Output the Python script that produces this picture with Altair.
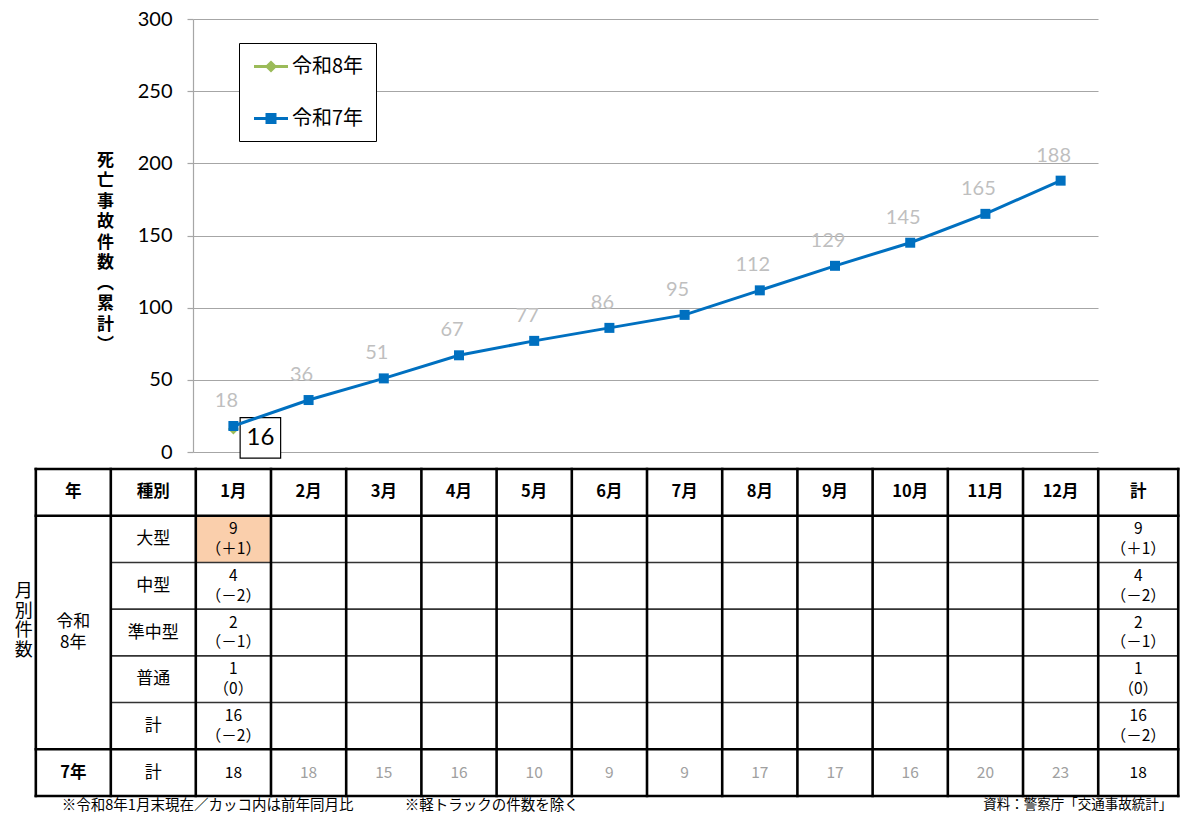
import altair as alt
import pandas as pd

# ---------------- data ----------------
months = list(range(1, 13))
month_labels = [f"{m}月" for m in months]
series_names = ["令和8年", "令和7年"]
r8_cumulative = [16]                                   # 令和8年 cumulative (Jan only)
r7_cumulative = [18, 36, 51, 67, 77, 86, 95, 112, 129, 145, 165, 188]
r7_monthly = [18, 18, 15, 16, 10, 9, 9, 17, 17, 16, 20, 23]
vehicle_types = ["大型", "中型", "準中型", "普通", "計"]
r8_jan_by_type = [9, 4, 2, 1, 16]
r8_jan_diff = [1, -2, -1, 0, -2]
y_ticks = [0, 50, 100, 150, 200, 250, 300]
y_title = "死亡事故件数（累計）"
side_label = "月別件数"
table_year_head = "年"
table_type_head = "種別"
table_total_head = "計"
r8_label = "令和\n8年"
r7_label = "7年"
notes_left = ["※令和8年1月末現在／カッコ内は前年同月比", "※軽トラックの件数を除く"]
note_right = "資料：警察庁「交通事故統計」"

# ---------------- styles / layout ----------------
JP = "Noto Sans CJK JP"
NUM = "Lato"
BLUE = "#0070C0"
GREEN = "#9BBB59"
GRID = "#A6A6A6"
LABEL_GRAY = "#BFBFBF"
TABLE_GRAY = "#A0A0A0"
PEACH = "#FACFAC"
W, H = 905, 433
X_DOMAIN = [0.463, 12.497]
YEAR_COL, TYPE_COL, TOTAL_COL = 0.997, 1.13, 1.064
N_ROWS = 7
TABLE_RANGE = [450, 777]
VAL_LH = 19.5
SIDE_LH = 19.5

x_scale = alt.Scale(domain=X_DOMAIN, nice=False, zero=False)
y_scale = alt.Scale(domain=[0, 300], nice=False, zero=True)
t_scale = alt.Scale(domain=[0, N_ROWS], range=TABLE_RANGE, nice=False, zero=False)

vert = {"（": "︵", "）": "︶"}
title_lines = [vert.get(c, c) for c in y_title]

y_axis = alt.Axis(
    values=y_ticks, grid=True, gridColor=GRID, gridWidth=1.2,
    domainColor=GRID, domainWidth=1.2, tickColor=GRID, tickSize=6, tickWidth=1.2,
    labelFont=NUM, labelFontSize=20, labelColor="black", labelPadding=15,
    title=title_lines, titleAngle=0, titleX=-88, titleY=141, titleAlign="center",
    titleBaseline="middle", titleFont=JP, titleFontSize=17, titleFontWeight="bold",
    titleLineHeight=20.5, titleColor="black",
)
X_M = alt.X("month:Q", scale=x_scale, axis=None)
Y_V = alt.Y("value:Q", scale=y_scale, axis=y_axis)

df7 = pd.DataFrame({"month": months, "value": r7_cumulative})
df8 = pd.DataFrame({"month": months[:len(r8_cumulative)], "value": r8_cumulative})
df_series = pd.DataFrame({"series": series_names})

# legend symbols: a line with the marker in the middle
path8 = "M-0.85,0H2.55M0.85,-0.4L1.25,0L0.85,0.4L0.45,0ZM0.85,-0.4V0.4"
path7 = "M-0.85,0H2.55M0.45,-0.4H1.25V0.4H0.45ZM0.45,-0.2H1.25M0.45,0.2H1.25"
legend = alt.Legend(
    title=None, orient="none", legendX=46, legendY=24, direction="vertical",
    strokeColor="black", fillColor="white", padding=12, symbolSize=400,
    symbolStrokeWidth=3, symbolOpacity=1, rowPadding=30, labelOffset=18,
    labelFont=JP, labelFontSize=20, labelColor="black", labelLimit=300,
    labelExpr="datum.label + '\u3000'",
)
legend_layer = alt.Chart(df_series).mark_point(filled=False, opacity=0).encode(
    color=alt.Color("series:N", scale=alt.Scale(domain=series_names, range=[GREEN, BLUE]), legend=legend),
    shape=alt.Shape("series:N", scale=alt.Scale(domain=series_names, range=[path8, path7]), legend=legend),
)

green_pts = alt.Chart(df8).mark_point(shape="diamond", filled=True, size=120, color=GREEN, opacity=1).encode(x=X_M, y=Y_V)
box = alt.Chart(df8).mark_point(shape="square", size=1640, fill="white", stroke="black", strokeWidth=1.2,
                                opacity=1, fillOpacity=1, xOffset=27, yOffset=9).encode(x=X_M, y=Y_V)
blue_line = alt.Chart(df7).mark_line(color=BLUE, strokeWidth=3).encode(x=X_M, y=Y_V)
blue_pts = alt.Chart(df7).mark_point(shape="square", filled=True, size=100, color=BLUE, opacity=1).encode(x=X_M, y=Y_V)
labels7 = alt.Chart(df7).mark_text(font=NUM, fontSize=20, color=LABEL_GRAY, dx=-7, dy=-25).encode(
    x=X_M, y=Y_V, text=alt.Text("value:Q"))
label8 = alt.Chart(df8).mark_text(font=NUM, fontSize=24, color="black", dx=27, dy=9).encode(
    x=X_M, y=Y_V, text=alt.Text("value:Q"))

line_group = alt.layer(legend_layer, green_pts, box, blue_line, blue_pts, labels7, label8)

# ---------------- table ----------------
left = 0.5 - TYPE_COL - YEAR_COL
right = 12.5 + TOTAL_COL
edges = [left, left + YEAR_COL] + [m - 0.5 for m in months] + [12.5, right]
c_year = left + YEAR_COL / 2
c_type = (left + YEAR_COL + 0.5) / 2
c_total = 12.5 + TOTAL_COL / 2
n_cur = len(r8_cumulative)

X_T = alt.X("x:Q", scale=x_scale, axis=None)
Y_T = alt.Y("row:Q", scale=t_scale, axis=None)


def fmt_diff(d):
    sign = "＋" if d > 0 else ("－" if d < 0 else "")
    return f"（{sign}{abs(d)}）"


# highlighted cells (increase vs previous year)
hl = pd.DataFrame([{"x": 0.5, "x2": 1.5, "row": i + 1, "row2": i + 2}
                   for i, d in enumerate(r8_jan_diff) if d > 0 and i < 4])
hl_layer = alt.Chart(hl).mark_rect(color=PEACH).encode(x=X_T, x2="x2:Q", y=Y_T, y2="row2:Q")

vrules = pd.DataFrame({"x": edges, "row": 0, "row2": N_ROWS})
hthick = pd.DataFrame({"x": left, "x2": right, "row": [0, 1, 6, 7]})
hthin = pd.DataFrame({"x": left + YEAR_COL, "x2": right, "row": [2, 3, 4, 5]})
v_layer = alt.Chart(vrules).mark_rule(color="black", strokeWidth=2.6, strokeCap="square").encode(
    x=X_T, y=Y_T, y2="row2:Q")
hthick_layer = alt.Chart(hthick).mark_rule(color="black", strokeWidth=2.6, strokeCap="square").encode(
    x=X_T, x2="x2:Q", y=Y_T)
hthin_layer = alt.Chart(hthin).mark_rule(color="#333333", strokeWidth=1.6).encode(
    x=X_T, x2="x2:Q", y=Y_T)

head = [(c_year, 0.5, table_year_head), (c_type, 0.5, table_type_head)]
head += [(m, 0.5, lab) for m, lab in zip(months, month_labels)]
head += [(c_total, 0.5, table_total_head), (c_year, 6.5, r7_label)]
head_df = pd.DataFrame(head, columns=["x", "row", "text"])

lab = [(c_type, i + 1.5, t) for i, t in enumerate(vehicle_types)]
lab += [(c_type, 6.5, table_total_head)]
lab_df = pd.DataFrame(lab, columns=["x", "row", "text"])
r8lab_df = pd.DataFrame([(c_year, 3.5, r8_label)], columns=["x", "row", "text"])

vals2 = []
for i, (v, d) in enumerate(zip(r8_jan_by_type, r8_jan_diff)):
    cell = f"{v}\n{fmt_diff(d)}"
    vals2.append((1, i + 1.5, cell))
    vals2.append((c_total, i + 1.5, cell))
vals2_df = pd.DataFrame(vals2, columns=["x", "row", "text"])
vals1 = [(m, 6.5, str(v)) for m, v in zip(months, r7_monthly) if m <= n_cur]
vals1.append((c_total, 6.5, str(sum(r7_monthly[:n_cur]))))
vals1_df = pd.DataFrame(vals1, columns=["x", "row", "text"])
gray_df = pd.DataFrame([(m, 6.5, str(v)) for m, v in zip(months, r7_monthly) if m > n_cur],
                       columns=["x", "row", "text"])


def txt(df, **kw):
    base = dict(font=JP, align="center", baseline="middle", lineBreak="\n", color="black")
    base.update(kw)
    return alt.Chart(df).mark_text(**base).encode(x=X_T, y=Y_T, text="text:N")


head_layer = txt(head_df, fontSize=16.5, fontWeight="bold")
lab_layer = txt(lab_df, fontSize=17)
r8lab_layer = txt(r8lab_df, fontSize=17, lineHeight=21, dy=-10.5)
vals2_layer = txt(vals2_df, fontSize=15.5, lineHeight=VAL_LH, dy=-VAL_LH / 2)
vals1_layer = txt(vals1_df, fontSize=15.5)
gray_layer = txt(gray_df, fontSize=15.5, color=TABLE_GRAY)

side_df = pd.DataFrame([(left, 3.5, "\n".join(side_label))], columns=["x", "row", "text"])
side_layer = txt(side_df, fontSize=18, lineHeight=SIDE_LH, dx=-12,
                 dy=-11 - (len(side_label) - 1) * SIDE_LH / 2)

notes_df = pd.DataFrame({"x": [left, left], "row": [N_ROWS, N_ROWS], "text": notes_left})
note1 = txt(notes_df.iloc[[0]], fontSize=14.5, align="left", dx=26, dy=10)
note2 = txt(notes_df.iloc[[1]], fontSize=14.5, align="left", dx=369, dy=10)
note3 = txt(pd.DataFrame({"x": [right], "row": [N_ROWS], "text": [note_right]}),
            fontSize=13.5, align="right", dx=-6, dy=9)

table_group = alt.layer(hl_layer, hthin_layer, v_layer, hthick_layer, head_layer, lab_layer,
                        r8lab_layer, vals2_layer, vals1_layer, gray_layer, side_layer,
                        note1, note2, note3)

chart = alt.layer(line_group, table_group).resolve_scale(y="independent").properties(
    width=W, height=H,
    padding={"left": 185, "top": 11, "right": 94, "bottom": 361},
    autosize=alt.AutoSizeParams(type="none"),
    background="white",
).configure_view(stroke=None)

chart.save("out.html", embed_options={"renderer": "svg", "actions": False})
